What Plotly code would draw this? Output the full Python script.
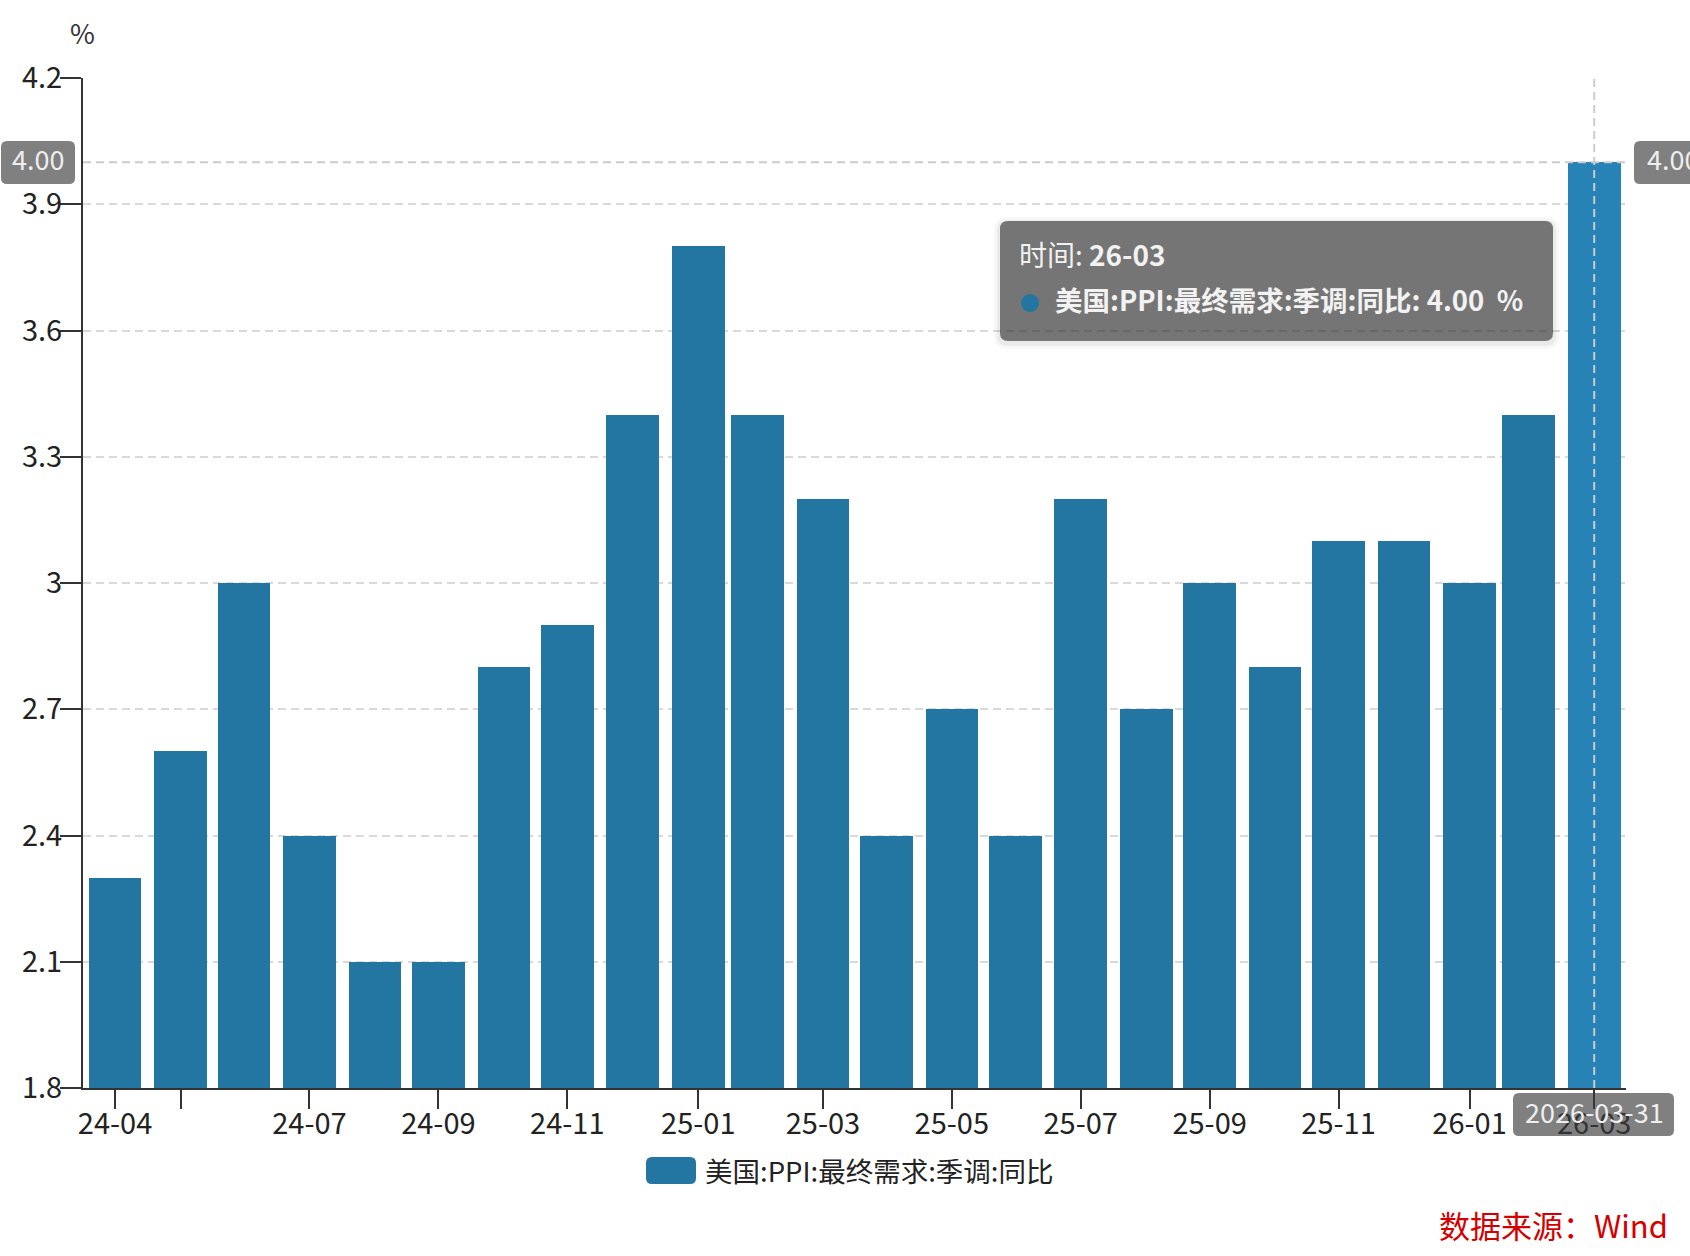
import plotly.graph_objects as go

# ---------------- data ----------------
dates = ["2024-04-30", "2024-05-31", "2024-06-30", "2024-07-31", "2024-08-31", "2024-09-30",
         "2024-10-31", "2024-11-30", "2024-12-31", "2025-01-31", "2025-02-28", "2025-03-31",
         "2025-04-30", "2025-05-31", "2025-06-30", "2025-07-31", "2025-08-31", "2025-09-30",
         "2025-10-31", "2025-11-30", "2025-12-31", "2026-01-31", "2026-02-28", "2026-03-31"]
values = [2.3, 2.6, 3.0, 2.4, 2.1, 2.1, 2.8, 2.9, 3.4, 3.8, 3.4, 3.2,
          2.4, 2.7, 2.4, 3.2, 2.7, 3.0, 2.8, 3.1, 3.1, 3.0, 3.4, 4.0]
tick_dates = ["2024-04-30", "2024-05-31", "2024-07-31", "2024-09-30", "2024-11-30", "2025-01-31",
              "2025-03-31", "2025-05-31", "2025-07-31", "2025-09-30", "2025-11-30", "2026-01-31",
              "2026-03-31"]
tick_labels = ["24-04", "", "24-07", "24-09", "24-11", "25-01", "25-03", "25-05", "25-07",
               "25-09", "25-11", "26-01", "26-03"]
y_ticks = [1.8, 2.1, 2.4, 2.7, 3.0, 3.3, 3.6, 3.9, 4.2]
y_tick_labels = ["1.8", "2.1", "2.4", "2.7", "3", "3.3", "3.6", "3.9", "4.2"]
series_name = "美国:PPI:最终需求:季调:同比"
unit = "%"
source_text = "数据来源：Wind"
hover_label = "26-03"
hover_date_label = "2026-03-31"

# ---------------- layout helpers ----------------
W, H = 1690, 1256
ML, MR, MT, MB = 83, 64, 78, 168
PW = W - ML - MR
PH = H - MT - MB
FONT = "Noto Sans CJK SC, Microsoft YaHei, sans-serif"
BAR = "#2276a1"
BAR_HI = "#2782b5"
DAY_MS = 86400000


def px(x):
    return (x - ML) / PW


def py(y):
    return (H - MB - y) / PH


def rpath(x0, y0, x1, y1, r):
    return (f"M {px(x0 + r)} {py(y0)} L {px(x1 - r)} {py(y0)} "
            f"Q {px(x1)} {py(y0)} {px(x1)} {py(y0 + r)} L {px(x1)} {py(y1 - r)} "
            f"Q {px(x1)} {py(y1)} {px(x1 - r)} {py(y1)} L {px(x0 + r)} {py(y1)} "
            f"Q {px(x0)} {py(y1)} {px(x0)} {py(y1 - r)} L {px(x0)} {py(y0 + r)} "
            f"Q {px(x0)} {py(y0)} {px(x0 + r)} {py(y0)} Z")


colors = [BAR] * (len(values) - 1) + [BAR_HI]

fig = go.Figure()
fig.add_trace(go.Bar(
    x=dates, y=values, name=series_name,
    width=[24.9 * DAY_MS] * len(values),
    marker=dict(color=colors, line=dict(width=0)),
    showlegend=False,
))

shapes = []
annotations = []

# crosshair lines at hovered point
shapes.append(dict(type="line", xref="x", yref="paper", x0=dates[-1], x1=dates[-1], y0=0, y1=1,
                   line=dict(color="#cccccc", width=2, dash="8px,5px"), layer="above"))
shapes.append(dict(type="line", xref="paper", yref="y", x0=0, x1=1, y0=values[-1], y1=values[-1],
                   line=dict(color="#cccccc", width=2, dash="8px,5px"), layer="above"))

# tooltip box (with soft shadow)
TX0, TY0, TX1, TY1 = 1000, 221, 1553, 341
for off, a in [(6, 0.03), (3, 0.05)]:
    shapes.append(dict(type="path", xref="paper", yref="paper", layer="above",
                       path=rpath(TX0 - off, TY0 - off + 2, TX1 + off, TY1 + off + 2, 8 + off),
                       fillcolor=f"rgba(0,0,0,{a})", line=dict(width=0)))
shapes.append(dict(type="path", xref="paper", yref="paper", layer="above",
                   path=rpath(TX0, TY0, TX1, TY1, 8),
                   fillcolor="rgba(50,50,50,0.64)", line=dict(width=0)))
shapes.append(dict(type="circle", xref="paper", yref="paper", layer="above",
                   x0=px(1030 - 9), x1=px(1030 + 9), y0=py(303 + 9), y1=py(303 - 9),
                   fillcolor=BAR, line=dict(width=0)))
annotations.append(dict(xref="paper", yref="paper", x=px(1017), y=py(254), xanchor="left",
                        yanchor="middle", showarrow=False,
                        text=f"时间: <b>{hover_label}</b>",
                        font=dict(family=FONT, size=28, color="#f2f2f2")))
annotations.append(dict(xref="paper", yref="paper", x=px(1053), y=py(299), xanchor="left",
                        yanchor="middle", showarrow=False,
                        text=f"<b>{series_name}: {values[-1]:.2f}  {unit}</b>",
                        font=dict(family=FONT, size=27.5, color="#f2f2f2")))

# axis pointer labels
PTR = "rgba(60,60,60,0.65)"
shapes.append(dict(type="path", xref="paper", yref="paper", layer="above",
                   path=rpath(1, 141, 75, 184, 6), fillcolor=PTR, line=dict(width=0)))
annotations.append(dict(xref="paper", yref="paper", x=px(38), y=py(159), xanchor="center",
                        yanchor="middle", showarrow=False, text=f"{values[-1]:.2f}",
                        font=dict(family=FONT, size=27, color="#eeeeee")))
shapes.append(dict(type="path", xref="paper", yref="paper", layer="above",
                   path=rpath(1634, 141, 1740, 184, 6), fillcolor=PTR, line=dict(width=0)))
annotations.append(dict(xref="paper", yref="paper", x=px(1645), y=py(159), xanchor="left",
                        yanchor="middle", showarrow=False, text=f"{values[-1]:.2f}",
                        font=dict(family=FONT, size=27, color="#eeeeee")))
shapes.append(dict(type="path", xref="paper", yref="paper", layer="above",
                   path=rpath(1513, 1093, 1674, 1136, 6), fillcolor=PTR, line=dict(width=0)))
annotations.append(dict(xref="paper", yref="paper", x=px(1594), y=py(1111), xanchor="center",
                        yanchor="middle", showarrow=False, text=hover_date_label,
                        font=dict(family=FONT, size=27, color="#eeeeee")))

# unit label
annotations.append(dict(xref="paper", yref="paper", x=px(82), y=py(33), xanchor="center",
                        yanchor="middle", showarrow=False, text=unit,
                        font=dict(family=FONT, size=27, color="#333333")))

# legend (drawn)
shapes.append(dict(type="path", xref="paper", yref="paper", layer="above",
                   path=rpath(646, 1157, 696, 1184, 6), fillcolor=BAR, line=dict(width=0)))
annotations.append(dict(xref="paper", yref="paper", x=px(703), y=py(1170), xanchor="left",
                        yanchor="middle", showarrow=False, text=series_name,
                        font=dict(family=FONT, size=27.5, color="#222222")))

# source
annotations.append(dict(xref="paper", yref="paper", x=px(1670), y=py(1224), xanchor="right",
                        yanchor="middle", showarrow=False, text=source_text,
                        font=dict(family=FONT, size=31, color="#d40000")))

fig.update_layout(
    width=W, height=H,
    margin=dict(l=ML, r=MR, t=MT, b=MB, pad=0),
    paper_bgcolor="white", plot_bgcolor="white",
    font=dict(family=FONT, size=26, color="#222222"),
    bargap=0,
    hovermode=False,
    shapes=shapes,
    annotations=annotations,
    xaxis=dict(
        type="date",
        range=["2024-04-14 20:00", "2026-04-15 01:00"],
        tickmode="array", tickvals=tick_dates, ticktext=tick_labels,
        showline=True, linecolor="#333333", linewidth=2,
        ticks="outside", ticklen=19, tickwidth=2, tickcolor="#333333",
        ticklabelstandoff=-10,
        showgrid=False, zeroline=False,
        tickfont=dict(family=FONT, size=29, color="#222222"),
    ),
    yaxis=dict(
        range=[1.8, 4.2],
        tickmode="array", tickvals=y_ticks, ticktext=y_tick_labels,
        showline=True, linecolor="#333333", linewidth=2,
        ticks="outside", ticklen=21, tickwidth=2, tickcolor="#333333",
        ticklabelstandoff=-8,
        showgrid=True, gridcolor="#d9d9d9", gridwidth=2, griddash="8px,5px",
        zeroline=False,
        tickfont=dict(family=FONT, size=29, color="#222222"),
    ),
)

fig.write_html("out.html", config={"displayModeBar": False},
               post_script="document.body.style.margin='0';")
